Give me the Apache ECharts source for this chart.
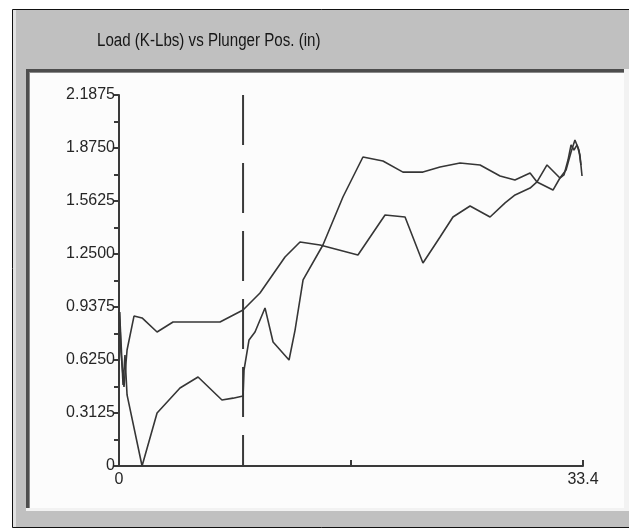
<!DOCTYPE html>
<html>
<head>
<meta charset="utf-8">
<script src="https://cdn.jsdelivr.net/npm/echarts@6/dist/echarts.min.js"></script>
<style>
  html, body { margin: 0; padding: 0; background: #ffffff; }
  #chart { width: 629px; height: 530px; }
</style>
</head>
<body>
<div id="chart"></div>
<script>
// Dynamometer card: plunger position (in) vs load (K-Lbs)
const chartTitle = 'Load (K-Lbs) vs Plunger Pos. (in)';

// Stroke that dips to zero load and climbs high early
const strokeAPos  = [0.04, 0.14, 0.29, 0.43, 0.58, 1.66, 2.74, 4.39, 5.69, 7.41, 8.21, 8.93, 9.00, 9.36, 9.79, 10.51, 11.09, 12.24, 12.67, 13.25, 14.68, 16.12, 17.56, 19.00, 20.44, 21.88, 23.11, 24.55, 25.99, 27.43, 28.50, 29.59, 30.09, 31.24, 31.74, 32.18, 32.54, 32.82, 33.11, 33.25, 33.33];
const strokeALoad = [0.908, 0.743, 0.478, 0.654, 0.419, 0.000, 0.3125, 0.460, 0.525, 0.389, 0.400, 0.413, 0.566, 0.743, 0.790, 0.932, 0.731, 0.625, 0.800, 1.097, 1.303, 1.586, 1.822, 1.798, 1.733, 1.733, 1.763, 1.787, 1.775, 1.710, 1.686, 1.728, 1.675, 1.627, 1.698, 1.745, 1.851, 1.922, 1.863, 1.775, 1.710];

// Stroke that stays near 0.85 then rises gradually
const strokeBPos  = [0.04, 0.14, 0.36, 0.58, 1.08, 1.66, 2.74, 3.89, 7.27, 8.93, 10.15, 11.95, 13.03, 14.47, 17.20, 19.15, 20.59, 21.88, 23.11, 24.04, 25.27, 26.71, 27.79, 28.51, 29.59, 30.09, 30.81, 31.74, 32.03, 32.32, 32.54, 32.75, 32.97, 33.18, 33.25];
const strokeBLoad = [0.908, 0.672, 0.466, 0.684, 0.884, 0.873, 0.790, 0.849, 0.849, 0.920, 1.020, 1.232, 1.321, 1.303, 1.244, 1.480, 1.468, 1.197, 1.350, 1.468, 1.533, 1.468, 1.551, 1.598, 1.639, 1.675, 1.775, 1.698, 1.716, 1.804, 1.893, 1.863, 1.893, 1.834, 1.775];

// Axis settings
const xMin = 0, xMax = 33.4, xStep = 16.7;
const yMin = 0, yMax = 2.1875, yStep = 0.3125;
const xLabels = ['0', '33.4'];

// Vertical marker position (in)
const markerPos = 8.93;

const zip = (xs, ys) => xs.map((x, i) => [x, ys[i]]);

const chart = echarts.init(document.getElementById('chart'), null, { renderer: 'canvas' });

const frameGray = '#c0c0c0';
const lineColor = '#363636';
const axisColor = '#3a3a3a';
const labelFont = '"Liberation Sans", Arial, sans-serif';

chart.setOption({
  backgroundColor: '#ffffff',
  animation: false,
  graphic: {
    elements: [
      // window frame
      { type: 'rect', z: -20, shape: { x: 12.5, y: 9.5, width: 630, height: 518 },
        style: { fill: frameGray, stroke: '#111111', lineWidth: 1 } },
      { type: 'rect', z: -19, shape: { x: 13, y: 10, width: 3, height: 517 },
        style: { fill: '#e2e2e2' } },
      // condensed caption in the title band
      { type: 'text', z: -15, x: 97, y: 41, scaleX: 0.84, scaleY: 1,
        style: { text: chartTitle, fontFamily: labelFont, fontSize: 18,
                 fill: '#161616', textVerticalAlign: 'middle', verticalAlign: 'middle' } },
      // plot panel with inset bevel
      { type: 'rect', z: -18, shape: { x: 26, y: 69, width: 603, height: 442 },
        style: { fill: '#f2f2f2' } },
      { type: 'rect', z: -17, shape: { x: 26, y: 69, width: 598, height: 439 },
        style: { fill: '#fcfcfc' } },
      { type: 'rect', z: -16, shape: { x: 26, y: 69, width: 598, height: 3 },
        style: { fill: '#4d4d4d' } },
      { type: 'rect', z: -16, shape: { x: 26, y: 69, width: 3, height: 439 },
        style: { fill: '#4d4d4d' } },
      { type: 'rect', z: -16, shape: { x: 29, y: 72, width: 595, height: 1 },
        style: { fill: '#8a8a8a' } },
      { type: 'rect', z: -16, shape: { x: 29, y: 72, width: 1, height: 436 },
        style: { fill: '#8a8a8a' } }
    ]
  },
  grid: { left: 119, top: 95, width: 464, height: 371, containLabel: false },
  xAxis: {
    type: 'value',
    min: xMin,
    max: xMax,
    interval: xStep,
    axisLine: { show: true, onZero: false, lineStyle: { color: axisColor, width: 2 } },
    axisTick: { show: true, inside: true, length: 6, lineStyle: { color: axisColor, width: 2 } },
    splitLine: { show: false },
    axisLabel: {
      show: true,
      margin: 6,
      fontFamily: labelFont,
      fontSize: 16,
      color: '#262626',
      showMinLabel: true,
      showMaxLabel: true,
      formatter: (v) => {
        const s = String(Math.round(v * 10) / 10);
        return xLabels.indexOf(s) >= 0 ? s : '';
      }
    }
  },
  yAxis: {
    type: 'value',
    min: yMin,
    max: yMax,
    interval: yStep,
    axisLine: { show: true, onZero: false, lineStyle: { color: axisColor, width: 2 } },
    axisTick: { show: true, inside: false, length: 6, lineStyle: { color: axisColor, width: 2 } },
    minorTick: { show: true, splitNumber: 2, length: 5, lineStyle: { color: axisColor, width: 2 } },
    splitLine: { show: false },
    axisLabel: {
      margin: 4,
      fontFamily: labelFont,
      fontSize: 16,
      color: '#262626',
      formatter: (v) => (v === 0 ? '0' : v.toFixed(4))
    }
  },
  series: [
    {
      name: 'Stroke A',
      type: 'line',
      data: zip(strokeAPos, strokeALoad),
      showSymbol: false,
      symbol: 'none',
      lineStyle: { color: lineColor, width: 1.6 },
      z: 3
    },
    {
      name: 'Stroke B',
      type: 'line',
      data: zip(strokeBPos, strokeBLoad),
      showSymbol: false,
      symbol: 'none',
      lineStyle: { color: lineColor, width: 1.6 },
      z: 3
    },
    {
      name: 'Marker',
      type: 'line',
      data: [[markerPos, yMax], [markerPos, yMin]],
      showSymbol: false,
      symbol: 'none',
      lineStyle: { color: axisColor, width: 2, type: [50, 18] },
      z: 2
    }
  ]
});
</script>
</body>
</html>
